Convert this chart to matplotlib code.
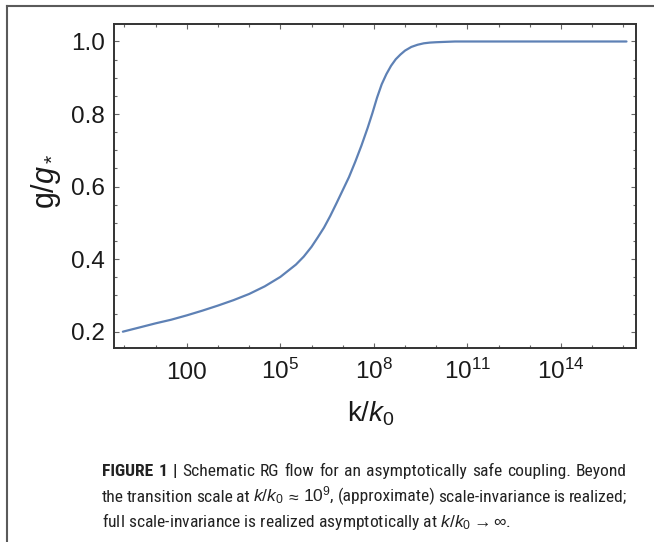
import numpy as np
import matplotlib
matplotlib.use("Agg")
import matplotlib.pyplot as plt
from matplotlib.lines import Line2D
from matplotlib.ticker import NullFormatter
from matplotlib import font_manager as fm

# ---------------- data ----------------
log_k = [-0.05, 0.5, 1.0, 1.5, 2.0, 2.5, 3.0, 3.5, 4.0, 4.5, 5.0, 5.5, 5.75,
         6.0, 6.2, 6.4, 6.6, 6.8, 7.0, 7.2, 7.4, 7.6, 7.8, 7.95, 8.1, 8.25,
         8.4, 8.55, 8.7, 8.85, 9.0, 9.2, 9.4, 9.6, 9.8, 10.0, 10.3, 10.6,
         11.0, 12.0, 13.0, 14.0, 15.0, 16.1]
g_ratio = [0.200, 0.212, 0.223, 0.233, 0.245, 0.258, 0.272, 0.287, 0.304,
           0.325, 0.351, 0.385, 0.407, 0.434, 0.460, 0.487, 0.519, 0.554,
           0.590, 0.626, 0.668, 0.713, 0.762, 0.802, 0.845, 0.882, 0.910,
           0.933, 0.951, 0.964, 0.975, 0.985, 0.991, 0.995, 0.997, 0.998,
           0.999, 1.0, 1.0, 1.0, 1.0, 1.0, 1.0, 1.0]

x_major = [1e2, 1e5, 1e8, 1e11, 1e14]
x_major_labels = ["100", r"$10^{5}$", r"$10^{8}$", r"$10^{11}$", r"$10^{14}$"]
x_minor_exp = [0, 1, 3, 4, 6, 7, 9, 10, 12, 13, 15, 16]
y_major = [0.2, 0.4, 0.6, 0.8, 1.0]
y_major_labels = ["0.2", "0.4", "0.6", "0.8", "1.0"]
y_minor = [0.25, 0.3, 0.35, 0.45, 0.5, 0.55, 0.65, 0.7, 0.75, 0.85, 0.9, 0.95]

caption_line1_bold = ["FIGURE", "1", "|"]
caption_line1 = ["Schematic", "RG", "flow", "for", "an", "asymptotically",
                 "safe", "coupling.", "Beyond"]
caption_line2 = ["the", "transition", "scale", "at", r"$k/k_0$", r"$\approx$",
                 r"$10^9$,", "(approximate)", "scale-invariance", "is", "realized;"]
caption_line3 = r"full scale-invariance is realized asymptotically at $k/k_0 \to \infty$."

# ---------------- fonts ----------------
avail = {f.name for f in fm.fontManager.ttflist}
main_font = "Liberation Sans" if "Liberation Sans" in avail else "DejaVu Sans"
narrow = None
for cand in ["Liberation Sans Narrow", "Roboto Condensed", "Open Sans Condensed",
             "DejaVu Sans Condensed"]:
    if cand in avail:
        narrow = cand
        break
cap_font = narrow if narrow else main_font
cap_size = 12.6 if narrow else 10.5

plt.rcParams["font.family"] = [main_font, "DejaVu Sans"]
plt.rcParams["mathtext.fontset"] = "custom"
plt.rcParams["mathtext.rm"] = main_font
plt.rcParams["mathtext.it"] = main_font + ":italic"
plt.rcParams["mathtext.bf"] = main_font + ":bold"

W, H = 654, 542
fig = plt.figure(figsize=(W / 100, H / 100), dpi=100)
fig.patch.set_facecolor("white")

ax = fig.add_axes([113.8 / W, 1 - 348 / H, (636 - 113.8) / W, (348 - 24.3) / H])

k = 10 ** np.array(log_k)
ax.plot(k, g_ratio, color=(0.368, 0.507, 0.710), lw=1.6,
        solid_capstyle="round", solid_joinstyle="round")

ax.set_xscale("log")
ax.set_xlim(10 ** -0.341, 10 ** 16.405)
ax.set_ylim(0.155, 1.0474)

ax.set_xticks(x_major, labels=x_major_labels)
ax.set_xticks([10.0 ** e for e in x_minor_exp], minor=True)
ax.xaxis.set_minor_formatter(NullFormatter())
ax.set_yticks(y_major, labels=y_major_labels)
ax.set_yticks(y_minor, minor=True)

for sp in ax.spines.values():
    sp.set_color("#333333")
    sp.set_linewidth(1.4)

ax.tick_params(axis="both", which="both", direction="in", top=True, right=True,
               color="#666666", width=0.8)
ax.tick_params(axis="both", which="major", length=3.4)
ax.tick_params(axis="both", which="minor", length=2.0)
ax.tick_params(axis="x", which="major", labelsize=17.5, pad=22.3, labelcolor="#1a1a1a")
ax.tick_params(axis="y", which="major", labelsize=17.5, pad=6.5, labelcolor="#1a1a1a")
for lbl in ax.get_xticklabels():
    lbl.set_verticalalignment("baseline")

ax.set_xlabel(r"k/$k_0$", fontsize=20, color="#1a1a1a")
ax.xaxis.set_label_coords(0.4925, -0.1606)
ax.set_ylabel(r"g/$g_*$", fontsize=22, color="#1a1a1a")
ax.yaxis.set_label_coords(-0.098, 0.515)

# outer panel frame (left and top edges)
fig.add_artist(Line2D([7 / W, 7 / W], [0, 1 - 6 / H], transform=fig.transFigure,
                      color="#5a5a5a", lw=1.5))
fig.add_artist(Line2D([7 / W, 1], [1 - 6 / H, 1 - 6 / H], transform=fig.transFigure,
                      color="#5a5a5a", lw=1.5))

# ---------------- caption (justified lines) ----------------
renderer = fig.canvas.get_renderer()
x0, x1 = 102.0, 627.0
cap_color = "#222222"


def justified(words, weights, baseline_px):
    texts = []
    for w, wt in zip(words, weights):
        t = fig.text(0, 1 - baseline_px / H, w, fontsize=cap_size, family=[cap_font, "DejaVu Sans"],
                     fontweight=wt, color=cap_color, va="baseline", ha="left")
        texts.append(t)
    widths = [t.get_window_extent(renderer).width for t in texts]
    gap = (x1 - x0 - sum(widths)) / (len(texts) - 1)
    x = x0
    for t, wd in zip(texts, widths):
        t.set_x(x / W)
        x += wd + gap


justified(caption_line1_bold + caption_line1,
          ["bold"] * len(caption_line1_bold) + ["normal"] * len(caption_line1), 476)
justified(caption_line2, ["normal"] * len(caption_line2), 501.5)
fig.text(x0 / W, 1 - 527.5 / H, caption_line3, fontsize=cap_size,
         family=[cap_font, "DejaVu Sans"], color=cap_color, va="baseline", ha="left")

fig.savefig("out.png", dpi=100, facecolor="white")
